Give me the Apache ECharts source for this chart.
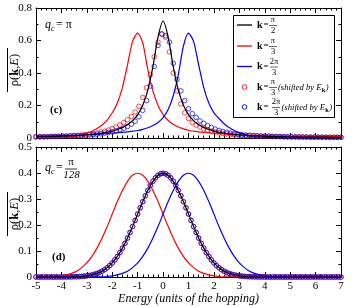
<!DOCTYPE html>
<html><head><meta charset="utf-8">
<script src="https://cdn.jsdelivr.net/npm/echarts@6/dist/echarts.min.js"></script>
<style>html,body{margin:0;padding:0;background:#fff}#c{width:354px;height:306px}</style>
</head><body><div id="c"></div>
<script>
// ---------- DATA ----------
// x sampling of curves: start and step (energy units)
const lineX0 = -5, lineStep = 0.2;          // 61 samples, -5 .. 7
const topCircleX0 = -5, topCircleStep = 0.15; // 81 samples, -5 .. 7
const botCircleX0 = -5, botCircleStep = 0.1;  // 121 samples, -5 .. 7

const xTicks = [-5,-4,-3,-2,-1,0,1,2,3,4,5,6,7];
const topYTicks = [0,0.2,0.4,0.6,0.8];
const botYTicks = [0,0.1,0.2,0.3,0.4,0.5];

// panel (c): q_c = pi
const topBlack = [.007,.008,.008,.009,.010,.011,.012,.014,.015,.017,.019,.022,.026,.030,.035,.042,.052,.064,.081,.107,.144,.202,.295,.439,.621,.72,.621,.439,.295,.202,.144,.107,.081,.064,.052,.042,.035,.030,.026,.022,.019,.017,.015,.014,.012,.011,.010,.009,.008,.008,.007,.007,.006,.006,.006,.005,.005,.005,.004,.004,.004];
const topRed = [.001,.002,.002,.003,.003,.004,.006,.008,.012,.020,.030,.042,.058,.080,.11,.155,.215,.31,.45,.595,.645,.585,.42,.29,.20,.145,.108,.085,.068,.056,.046,.042,.038,.035,.032,.030,.028,.025,.023,.022,.020,.019,.018,.017,.016,.015,.014,.014,.013,.013,.012,.012,.011,.011,.010,.010,.009,.009,.008,.008,.008];
const topBlue = [.012,.013,.013,.014,.014,.015,.016,.017,.018,.019,.020,.022,.023,.025,.028,.030,.032,.035,.038,.042,.046,.053,.063,.077,.095,.125,.175,.26,.39,.565,.645,.595,.45,.31,.215,.155,.12,.088,.064,.046,.033,.022,.014,.009,.006,.004,.003,.003,.002,.002,.001,.001,.001,.001,.001,.001,.001,.001,.001,.001,.001];
const topRedShifted = [.007,.008,.008,.009,.010,.010,.011,.012,.013,.014,.016,.017,.019,.021,.024,.027,.031,.036,.042,.049,.058,.068,.080,.095,.113,.133,.160,.195,.25,.31,.39,.50,.59,.64,.62,.53,.40,.29,.21,.155,.12,.095,.08,.067,.057,.049,.042,.037,.032,.028,.025,.022,.020,.018,.016,.015,.014,.013,.012,.011,.010,.0095,.009,.0085,.008,.0075,.007,.007,.0065,.006,.006,.0055,.005,.005,.005,.0045,.0045,.004,.004,.004,.004];
const topBlueShifted = [.007,.0075,.0075,.008,.0085,.009,.0095,.010,.011,.012,.013,.014,.015,.017,.019,.021,.023,.026,.030,.034,.038,.044,.051,.060,.071,.085,.103,.13,.17,.23,.32,.44,.57,.64,.63,.59,.46,.36,.29,.23,.18,.15,.127,.105,.09,.076,.065,.055,.047,.040,.035,.030,.026,.023,.020,.018,.017,.015,.014,.013,.012,.011,.0105,.010,.009,.0085,.008,.007,.007,.0065,.006,.006,.0055,.005,.005,.005,.0045,.0045,.004,.004,.004];

// panel (d): q_c = pi/128
const botBlack = [0,0,0,0,0,0,0,.001,.001,.002,.004,.008,.014,.022,.036,.054,.079,.111,.150,.194,.242,.290,.333,.368,.391,.399,.391,.368,.333,.290,.242,.194,.150,.111,.079,.054,.036,.022,.014,.008,.004,.002,.001,.001,0,0,0,0,0,0,0,0,0,0,0,0,0,0,0,0,0];
const botRed = [0,0,.001,.001,.002,.004,.008,.014,.022,.036,.054,.079,.111,.150,.194,.242,.290,.333,.368,.391,.399,.391,.368,.333,.290,.242,.194,.150,.111,.079,.054,.036,.022,.014,.008,.004,.002,.001,.001,0,0,0,0,0,0,0,0,0,0,0,0,0,0,0,0,0,0,0,0,0,0];
const botBlue = [0,0,0,0,0,0,0,0,0,0,0,0,.001,.001,.002,.004,.008,.014,.022,.036,.054,.079,.111,.150,.194,.242,.290,.333,.368,.391,.399,.391,.368,.333,.290,.242,.194,.150,.111,.079,.054,.036,.022,.014,.008,.004,.002,.001,.001,0,0,0,0,0,0,0,0,0,0,0,0];
const botRedShifted = [0,0,0,0,0,0,0,0,0,0,0,.0002,.0003,.0004,.0006,.0009,.0012,.0017,.0024,.0033,.0044,.0060,.0079,.0104,.0136,.0175,.0224,.0283,.0355,.0440,.0540,.0656,.0790,.0940,.1109,.1295,.1497,.1714,.1942,.2179,.2420,.2661,.2897,.3123,.3332,.3521,.3683,.3814,.3910,.3970,.3989,.3970,.3910,.3814,.3683,.3521,.3332,.3123,.2897,.2661,.2420,.2179,.1942,.1714,.1497,.1295,.1109,.0940,.0790,.0656,.0540,.0440,.0355,.0283,.0224,.0175,.0136,.0104,.0079,.0060,.0044,.0033,.0024,.0017,.0012,.0009,.0006,.0004,.0003,.0002,0,0,0,0,0,0,0,0,0,0,0,0,0,0,0,0,0,0,0,0,0,0,0,0,0,0,0,0,0,0,0];
const botBlueShifted = botRedShifted.slice();

// ---------- CHART ----------
const F = 'Liberation Serif';
const RED = '#ff0000', BLUE = '#0000ff', BLACK = '#000000';
function pairs(x0, step, ys){ return ys.map((y,i)=>[+(x0+step*i).toFixed(4), y]); }
const mctx = document.createElement('canvas').getContext('2d');
function measure(text, font){ mctx.font = font; return mctx.measureText(text).width; }

function xAx(gi, pos, showLabel, extra){
  return Object.assign({
    type:'value', gridIndex:gi, position:pos, min:xTicks[0], max:xTicks[xTicks.length-1], interval:1,
    axisLine:{show:true,onZero:false,lineStyle:{color:'#000',width:1}},
    axisTick:{show:true,inside:true,length:5,lineStyle:{color:'#000',width:1}},
    minorTick:{show:true,splitNumber:5,length:2.5,lineStyle:{color:'#000',width:1}},
    splitLine:{show:false}, minorSplitLine:{show:false},
    axisLabel:{show:showLabel,color:'#000',fontFamily:F,fontSize:11,margin:4}
  }, extra||{});
}
function yAx(gi, pos, ticks, showLabel){
  return {
    type:'value', gridIndex:gi, position:pos, min:ticks[0], max:ticks[ticks.length-1], interval:ticks[1]-ticks[0],
    axisLine:{show:true,onZero:false,lineStyle:{color:'#000',width:1}},
    axisTick:{show:true,inside:true,length:5,lineStyle:{color:'#000',width:1}},
    minorTick:{show:true,splitNumber:2,length:2.5,lineStyle:{color:'#000',width:1}},
    splitLine:{show:false}, minorSplitLine:{show:false},
    axisLabel:{show:showLabel,color:'#000',fontFamily:F,fontSize:11,margin:4}
  };
}
function lineS(xi, yi, ys, color){
  return {type:'line', xAxisIndex:xi, yAxisIndex:yi, data:pairs(lineX0,lineStep,ys), showSymbol:false, symbol:'none',
    smooth:0.25, lineStyle:{color:color,width:1.2}, itemStyle:{color:color}, z:3, silent:true};
}
function circS(xi, yi, x0, step, ys, color){
  return {type:'scatter', xAxisIndex:xi, yAxisIndex:yi, data:pairs(x0,step,ys), symbol:'circle', symbolSize:4.6,
    itemStyle:{color:'rgba(0,0,0,0)', borderColor:color, borderWidth:0.9}, z:2, silent:true};
}

const G = [];
function txt(x,y,text,o){ G.push({type:'text', x:x, y:y, z:100, silent:true, style:Object.assign({text:text, fill:'#000', fontFamily:F, fontSize:11, align:'left', verticalAlign:'middle'}, o||{})}); }
function ln(x1,y1,x2,y2,color,w){ G.push({type:'line', z:100, silent:true, shape:{x1:x1,y1:y1,x2:x2,y2:y2}, style:{stroke:color||'#000', lineWidth:w||1}}); }

// y axis titles (rotated) with overline
const yRich = {b:{fontWeight:'bold',fontFamily:F,fontSize:12.5}, i:{fontStyle:'italic',fontFamily:F,fontSize:12.5}};
G.push({type:'text', x:14.5, y:70, rotation:Math.PI/2, z:100, silent:true, style:{text:'ρ({b|k},{i|E})', fill:'#000', fontFamily:F, fontSize:12.5, align:'center', verticalAlign:'middle', rich:yRich}});
ln(7.5,48,7.5,92);
G.push({type:'text', x:14.5, y:214, rotation:Math.PI/2, z:100, silent:true, style:{text:'ρ({b|k},{i|E})', fill:'#000', fontFamily:F, fontSize:12.5, align:'center', verticalAlign:'middle', rich:yRich}});
ln(7.5,192,7.5,236);

// panel annotations
txt(45,25,'q',{fontStyle:'italic',fontSize:12});
txt(51,29,'c',{fontStyle:'italic',fontSize:8});
txt(56,25,'= π',{fontSize:12});
txt(50,110,'(c)',{fontWeight:'bold',fontSize:11});

txt(45,168,'q',{fontStyle:'italic',fontSize:12});
txt(51,172,'c',{fontStyle:'italic',fontSize:8});
txt(56,168,'=',{fontSize:12});
txt(71,162,'π',{fontSize:11,align:'center'});
ln(65,169,77,169,'#000',0.8);
txt(71.5,175.5,'128',{fontStyle:'italic',fontSize:11,align:'center'});
txt(52,257,'(d)',{fontWeight:'bold',fontSize:11});

// legend box
G.push({type:'rect', z:99, silent:true, shape:{x:233.5,y:15.5,width:101,height:102}, style:{fill:'#fff', stroke:'#000', lineWidth:1}});
function legRow(y, color, kind, num, den, fx, shifted){
  if(kind==='line') ln(237,y,252,y,color,1.3);
  else G.push({type:'circle', z:100, silent:true, shape:{cx:244.5,cy:y,r:2.3}, style:{fill:'none', stroke:color, lineWidth:0.9}});
  txt(257,y,'k',{fontWeight:'bold',fontSize:10});
  txt(263.5,y,'=',{fontSize:9});
  txt(fx,y-5.2,num,{fontSize:8.5,align:'center'});
  ln(fx-4,y+0.5,fx+4,y+0.5,'#000',0.6);
  txt(fx,y+6,den,{fontSize:8.5,align:'center'});
  if(shifted){
    const s = '(shifted by E';
    const w = measure(s, 'italic 8.6px "Liberation Serif"');
    txt(shifted,y+0.5,s,{fontStyle:'italic',fontSize:8.6});
    txt(shifted+w+0.3,y+3.5,'k',{fontWeight:'bold',fontSize:6.5});
    const wk = measure('k','bold 6.5px "Liberation Serif"');
    txt(shifted+w+0.6+wk,y+0.5,')',{fontStyle:'italic',fontSize:8.6});
  }
}
legRow(25,BLACK,'line','π','2',273,0);
legRow(46,RED,'line','π','3',273,0);
legRow(66.5,BLUE,'line','2π','3',274,0);
legRow(87,RED,'circle','π','3',273,278);
legRow(107,BLUE,'circle','2π','3',276,281.5);

const option = {
  animation:false,
  backgroundColor:'#fff',
  grid:[
    {left:36,right:13,top:8,height:130,containLabel:false},
    {left:36,right:13,top:147,height:130,containLabel:false}
  ],
  xAxis:[
    xAx(0,'bottom',false), xAx(0,'top',false),
    xAx(1,'bottom',true,{name:'Energy (units of the hopping)', nameLocation:'middle', nameGap:16,
      nameTextStyle:{fontFamily:F,fontStyle:'italic',fontSize:12,color:'#000'}}),
    xAx(1,'top',false)
  ],
  yAxis:[
    yAx(0,'left',topYTicks,true), yAx(0,'right',topYTicks,false),
    yAx(1,'left',botYTicks,true), yAx(1,'right',botYTicks,false)
  ],
  series:[
    circS(0,0,topCircleX0,topCircleStep,topRedShifted,RED),
    circS(0,0,topCircleX0,topCircleStep,topBlueShifted,BLUE),
    lineS(0,0,topRed,RED),
    lineS(0,0,topBlue,BLUE),
    lineS(0,0,topBlack,BLACK),
    circS(2,2,botCircleX0,botCircleStep,botRedShifted,RED),
    circS(2,2,botCircleX0,botCircleStep,botBlueShifted,BLUE),
    lineS(2,2,botRed,RED),
    lineS(2,2,botBlue,BLUE),
    lineS(2,2,botBlack,BLACK)
  ],
  graphic:G
};
const chart = echarts.init(document.getElementById('c'), null, {renderer:'canvas'});
chart.setOption(option);
</script></body></html>
